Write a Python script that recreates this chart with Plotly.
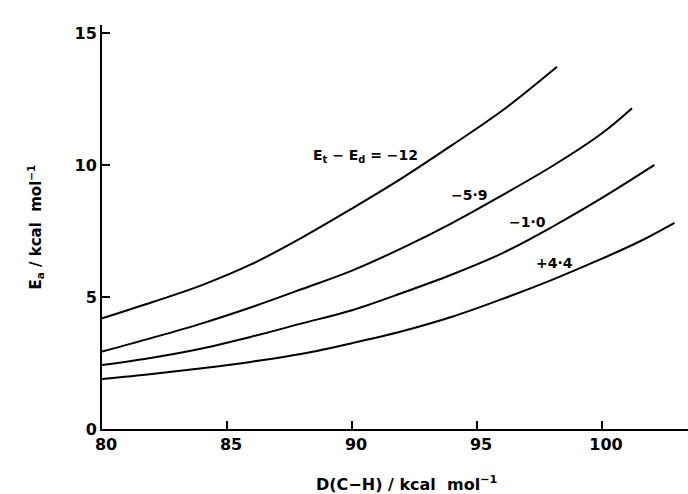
import plotly.graph_objects as go

# Data
d1 = [80, 82, 84, 86, 88, 90, 92, 94, 96, 98.2]
e1 = [4.19, 4.8, 5.45, 6.25, 7.25, 8.35, 9.5, 10.75, 12.05, 13.72]

d2 = [80, 82, 84, 86, 88, 90, 92, 94, 96, 98, 100, 101.2]
e2 = [2.93, 3.45, 4.0, 4.62, 5.3, 6.0, 6.85, 7.8, 8.85, 9.95, 11.2, 12.15]

d3 = [80, 82, 84, 86, 88, 90, 92, 94, 96, 98, 100, 102.1]
e3 = [2.42, 2.7, 3.05, 3.5, 4.0, 4.5, 5.15, 5.85, 6.65, 7.65, 8.75, 10.0]

d4 = [80, 82, 84, 86, 88, 90, 92, 94, 96, 98, 100, 101.5, 102.9]
e4 = [1.89, 2.08, 2.3, 2.55, 2.85, 3.25, 3.7, 4.25, 4.92, 5.65, 6.45, 7.1, 7.81]

series = [(d1, e1), (d2, e2), (d3, e3), (d4, e4)]

curve_labels = ["E<sub>t</sub> − E<sub>d</sub> = −12", "−5·9", "−1·0", "+4·4"]
label_x = [90.55, 94.7, 97.0, 98.1]
label_y = [10.35, 8.85, 7.85, 6.3]

x_ticks = [80, 85, 90, 95, 100]
y_ticks = [0, 5, 10, 15]
x_tick_text = ["80", "85", "90", "95", "100"]
y_tick_text = ["0", "5", "10", "15"]

FONT = "DejaVu Sans"

fig = go.Figure()
for d, e in series:
    fig.add_trace(go.Scatter(x=d, y=e, mode="lines", line=dict(color="black", width=2),
                             line_shape="spline", showlegend=False, hoverinfo="skip"))

for txt, lx, ly in zip(curve_labels, label_x, label_y):
    fig.add_annotation(x=lx, y=ly, text=txt, showarrow=False, xref="x", yref="y",
                       font=dict(family=FONT, size=14, color="black", weight="bold"))

fig.add_annotation(x=0.52, y=-0.135, xref="paper", yref="paper", showarrow=False,
                   text="D(C−H) / kcal  mol<sup>−1</sup>", yanchor="middle",
                   font=dict(family=FONT, size=16, color="black", weight="bold"))
fig.add_annotation(x=-0.115, y=0.5, xref="paper", yref="paper", showarrow=False,
                   text="E<sub>a</sub> / kcal  mol<sup>−1</sup>", textangle=-90,
                   xanchor="center", yanchor="middle",
                   font=dict(family=FONT, size=15, color="black", weight="bold"))

fig.update_layout(
    width=688, height=494,
    margin=dict(l=102, r=0, t=25, b=65),
    plot_bgcolor="white", paper_bgcolor="white",
    xaxis=dict(range=[80, 103.44], tickvals=x_ticks, ticktext=x_tick_text,
               ticks="inside", ticklen=8, tickwidth=1.5, tickcolor="black",
               showline=True, linecolor="black", linewidth=2, showgrid=False,
               zeroline=False, ticklabelstandoff=0, ticklabelshift=4,
               tickfont=dict(family=FONT, size=16, color="black", weight="bold")),
    yaxis=dict(range=[0, 15.3], tickvals=y_ticks, ticktext=y_tick_text,
               ticks="inside", ticklen=8, tickwidth=1.5, tickcolor="black",
               showline=True, linecolor="black", linewidth=2, showgrid=False,
               zeroline=False, ticklabelstandoff=0,
               tickfont=dict(family=FONT, size=16, color="black", weight="bold")),
)

fig.write_html("out.html")
